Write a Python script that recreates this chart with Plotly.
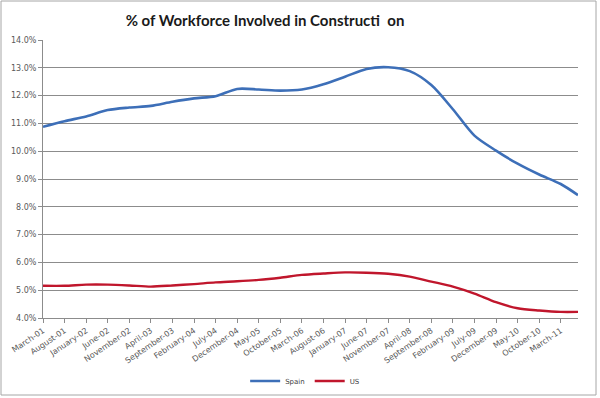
import plotly.graph_objects as go
from datetime import datetime

# ---- data ----
tick_labels = ["March-01", "August-01", "January-02", "June-02", "November-02",
               "April-03", "September-03", "February-04", "July-04", "December-04",
               "May-05", "October-05", "March-06", "August-06", "January-07",
               "June-07", "November-07", "April-08", "September-08", "February-09",
               "July-09", "December-09", "May-10", "October-10", "March-11"]
end_label = "July-11"
point_labels = tick_labels + [end_label]

spain = [10.88, 11.08, 11.25, 11.48, 11.57, 11.63, 11.78, 11.90, 11.98, 12.24,
         12.22, 12.18, 12.22, 12.41, 12.68, 12.96, 13.02, 12.88, 12.38, 11.51,
         10.56, 10.02, 9.55, 9.16, 8.82, 8.42]
us = [5.16, 5.16, 5.20, 5.20, 5.17, 5.13, 5.17, 5.22, 5.28, 5.32,
      5.37, 5.45, 5.55, 5.60, 5.64, 5.63, 5.59, 5.49, 5.31, 5.13,
      4.88, 4.57, 4.35, 4.27, 4.22, 4.22]

y_ticks = [4, 5, 6, 7, 8, 9, 10, 11, 12, 13, 14]


def month_index(lbl):
    d = datetime.strptime(lbl, "%B-%y")
    return (d.year - 2001) * 12 + d.month - 3


x = [month_index(l) for l in point_labels]
tick_x = [month_index(l) for l in tick_labels]

W, H = 600, 398
ML, MR, MT, MB = 43, 22, 40, 80
pw, ph = W - ML - MR, H - MT - MB

fig = go.Figure()
fig.add_trace(go.Scatter(x=x, y=spain, name="Spain", mode="lines",
                         line=dict(color="#3d6fb8", width=2.6, shape="spline", smoothing=0.8)))
fig.add_trace(go.Scatter(x=x, y=us, name="US", mode="lines",
                         line=dict(color="#c0162c", width=2.4, shape="spline", smoothing=0.8)))

grid = "#8c8c8c"
fig.update_layout(
    width=W, height=H,
    margin=dict(l=ML, r=MR, t=MT, b=MB, autoexpand=False),
    paper_bgcolor="white", plot_bgcolor="white",
    hovermode=False,
    title=dict(text="<b>% of Workforce Involved in Constructi  on</b>",
               x=265 / W, xanchor="center", y=1 - 21 / H, yanchor="middle",
               font=dict(family="Lato", size=15, color="#1a1a1a")),
    xaxis=dict(range=[x[0], x[-1]], tickmode="array", tickvals=tick_x, ticktext=tick_labels,
               tickangle=-34, showgrid=False, zeroline=False, automargin=False,
               showline=True, linecolor=grid, linewidth=1,
               ticks="outside", ticklen=4, tickcolor=grid,
               tickfont=dict(family="DejaVu Sans", size=8, color="#595959")),
    yaxis=dict(range=[4, 14], tickmode="array", tickvals=y_ticks,
               ticktext=[f"{v:.1f}%" for v in y_ticks], automargin=False,
               showgrid=True, gridcolor=grid, gridwidth=1, zeroline=False,
               showline=True, linecolor=grid, linewidth=1,
               ticks="outside", ticklen=4, tickcolor=grid,
               tickfont=dict(family="DejaVu Sans", size=8, color="#595959")),
    legend=dict(orientation="h", x=0.49, xanchor="center",
                y=(ph - (381 - MT)) / ph, yanchor="middle",
                font=dict(family="DejaVu Sans", size=7, color="#404040"),
                itemwidth=30, bgcolor="rgba(0,0,0,0)"),
    showlegend=True,
)

fig.add_shape(type="rect", xref="paper", yref="paper",
              x0=(1 - ML) / pw, x1=(596 - ML) / pw,
              y0=(ph - (395 - MT)) / ph, y1=(ph - (1 - MT)) / ph,
              line=dict(color="#a6a6a6", width=1), layer="below")

fig.write_html("out.html",
               config={"displayModeBar": False, "staticPlot": True},
               post_script="document.body.style.margin='0';document.body.style.padding='0';")
